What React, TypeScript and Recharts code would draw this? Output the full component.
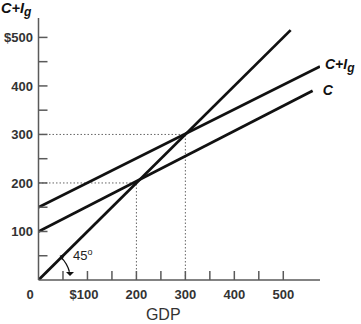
import { LineChart, Line, XAxis, YAxis, ReferenceLine, ReferenceDot, Label } from "recharts";

// spending lines (GDP on x, spending on y), two points each
const diagonalGdp = [0, 515];
const diagonalSpend = [0, 515];
const consumptionGdp = [0, 560];
const consumptionSpend = [100, 390];
const totalGdp = [0, 575];
const totalSpend = [150, 440];

// equilibrium guides
const guideLevels = [200, 300];

const gdpTicks = [0, 50, 100, 150, 200, 250, 300, 350, 400, 450, 500];
const spendTicks = [50, 100, 150, 200, 250, 300, 350, 400, 450, 500];

const AXIS = "#5a5a5a";
const INK = "#111";
const FONT = "'Liberation Sans', Arial, sans-serif";

const toPoints = (xs: number[], ys: number[]) => xs.map((x, i) => ({ gdp: x, v: ys[i] }));

const XTick = (props: any) => {
  const { x, y, payload } = props;
  const v = payload.value;
  const major = v % 100 === 0;
  const label = v === 100 ? "$100" : String(v);
  const dx = v === 0 ? -8.5 : v === 100 ? -3.5 : 0;
  return (
    <g>
      {v !== 0 && <line x1={x} y1={y} x2={x} y2={y - 9} stroke={AXIS} strokeWidth={1.5} />}
      {major && (
        <text x={x + dx} y={y + 19} textAnchor="middle" fontFamily={FONT} fontSize={13} fontWeight="bold" fill="#333">
          {label}
        </text>
      )}
    </g>
  );
};

const YTick = (props: any) => {
  const { x, y, payload } = props;
  const v = payload.value;
  const major = v % 100 === 0;
  return (
    <g>
      <line x1={x} y1={y} x2={x + 9} y2={y} stroke={AXIS} strokeWidth={1.5} />
      {major && (
        <text x={x - 5.5} y={y + 4.7} textAnchor="end" fontFamily={FONT} fontSize={13} fontWeight="bold" fill="#333">
          {v === 500 ? "$500" : v}
        </text>
      )}
    </g>
  );
};

const AngleMark = ({ cx, cy }: any) => {
  const r = 32;
  const a0 = Math.PI / 4;
  const a1 = (15 * Math.PI) / 180;
  const sx = cx + r * Math.cos(a0);
  const sy = cy - r * Math.sin(a0);
  const ex = cx + r * Math.cos(a1);
  const ey = cy - r * Math.sin(a1);
  return (
    <g>
      <path d={`M${sx},${sy} A${r},${r} 0 0 1 ${ex},${ey}`} fill="none" stroke={INK} strokeWidth={1.3} />
      <path d={`M${sx - 1.5},${sy - 1.5} L${sx + 4},${sy - 3.5} L${sx + 1},${sy + 3} Z`} fill={INK} />
      <path d={`M${cx + 27.5},${cy - 8} L${cx + 35.5},${cy - 8} L${cx + 31.5},${cy - 4} Z`} fill={INK} />
      <text x={cx + 34.5} y={cy - 20} fontFamily={FONT} fontSize={13} fill="#222">
        45
        <tspan fontSize={9} dy={-5}>
          o
        </tspan>
      </text>
    </g>
  );
};

const EndLabel = (text: string, dx: number, dy: number) => ({ cx, cy }: any) => (
  <text x={cx + dx} y={cy + dy} fontFamily={FONT} fontSize={14} fontWeight="bold" fontStyle="italic" fill="#111">
    {text === "C+I" ? (
      <>
        C+I<tspan fontSize={12} dy={3}>g</tspan>
      </>
    ) : (
      text
    )}
  </text>
);

export default function App() {
  return (
    <div style={{ position: "absolute", left: 0, top: 0, width: 361, height: 324, background: "#fff" }}>
      <div
        style={{
          position: "absolute",
          left: 1,
          top: 0,
          fontFamily: FONT,
          fontSize: 14.5,
          fontWeight: "bold",
          fontStyle: "italic",
          color: "#111",
        }}
      >
        C+I<span style={{ fontSize: 12, position: "relative", top: 3 }}>g</span>
      </div>
      <LineChart width={361} height={324} margin={{ top: 18, right: 41, bottom: 0, left: 0 }}>
        <XAxis
          type="number"
          dataKey="gdp"
          domain={[0, 575]}
          ticks={gdpTicks}
          interval={0}
          allowDataOverflow
          tickSize={0}
          tickMargin={0}
          tick={<XTick />}
          height={44}
          stroke={AXIS}
          strokeWidth={1.5}
        >
          <Label
            value="GDP"
            position="insideBottom"
            offset={4}
            dx={-16}
            style={{ fontFamily: FONT, fontSize: 16, fill: "#333" }}
          />
        </XAxis>
        <YAxis
          type="number"
          dataKey="v"
          domain={[0, 540]}
          ticks={spendTicks}
          interval={0}
          allowDataOverflow
          tickSize={0}
          tickMargin={0}
          tick={<YTick />}
          width={38.5}
          stroke={AXIS}
          strokeWidth={1.5}
        />
        {guideLevels.map((lvl) => (
          <ReferenceLine
            key={`h${lvl}`}
            segment={[
              { x: 0, y: lvl },
              { x: lvl, y: lvl },
            ]}
            stroke="#666"
            strokeWidth={1}
            strokeDasharray="1.5 2"
          />
        ))}
        {guideLevels.map((lvl) => (
          <ReferenceLine
            key={`v${lvl}`}
            segment={[
              { x: lvl, y: 0 },
              { x: lvl, y: lvl },
            ]}
            stroke="#666"
            strokeWidth={1}
            strokeDasharray="1.5 2"
          />
        ))}
        <Line
          data={toPoints(diagonalGdp, diagonalSpend)}
          dataKey="v"
          type="linear"
          stroke={INK}
          strokeWidth={2.8}
          dot={false}
          isAnimationActive={false}
        />
        <Line
          data={toPoints(totalGdp, totalSpend)}
          dataKey="v"
          type="linear"
          stroke={INK}
          strokeWidth={2.8}
          dot={false}
          isAnimationActive={false}
        />
        <Line
          data={toPoints(consumptionGdp, consumptionSpend)}
          dataKey="v"
          type="linear"
          stroke={INK}
          strokeWidth={2.8}
          dot={false}
          isAnimationActive={false}
        />
        <ReferenceDot x={0} y={0} shape={<AngleMark />} ifOverflow="visible" />
        <ReferenceDot
          x={totalGdp[1]}
          y={totalSpend[1]}
          shape={EndLabel("C+I", 5, 2)}
          ifOverflow="visible"
        />
        <ReferenceDot
          x={consumptionGdp[1]}
          y={consumptionSpend[1]}
          shape={EndLabel("C", 10, 4)}
          ifOverflow="visible"
        />
      </LineChart>
    </div>
  );
}
